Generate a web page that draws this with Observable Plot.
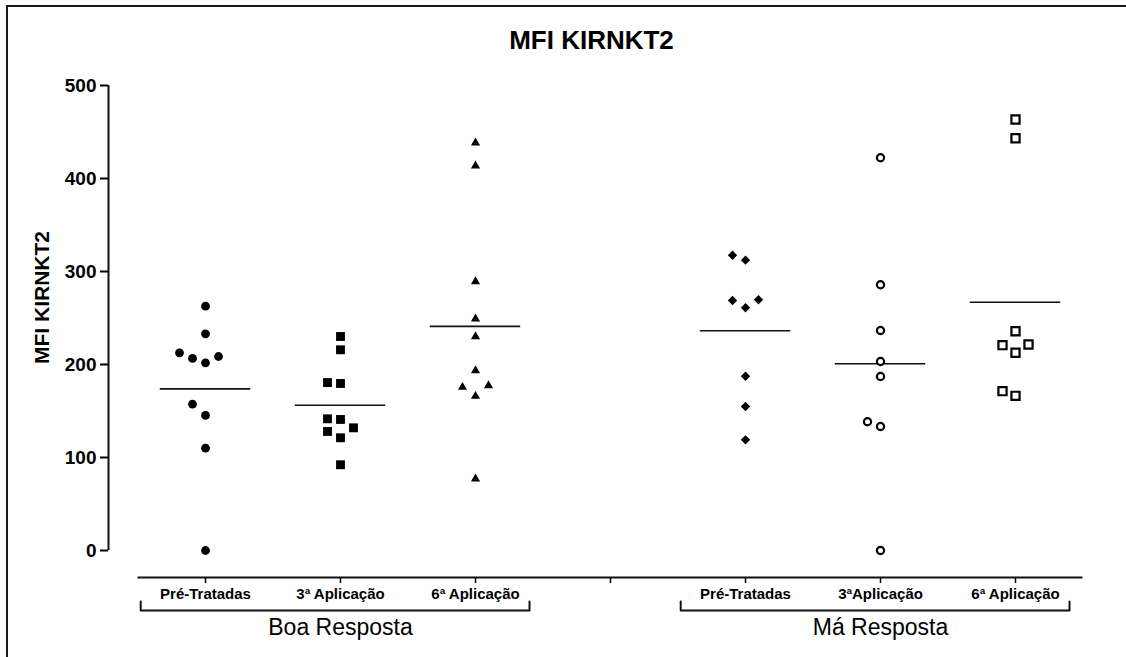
<!DOCTYPE html>
<html><head><meta charset="utf-8">
<script src="https://cdn.jsdelivr.net/npm/d3@7"></script>
<script src="https://cdn.jsdelivr.net/npm/@observablehq/plot@0.6"></script>
<style>
html,body{margin:0;padding:0;background:#fff;overflow:hidden}
#frame{position:absolute;left:6px;top:5px;width:1300px;height:800px;border-left:2px solid #1a1a1a;border-top:2px solid #1a1a1a}
#chart{position:absolute;left:0;top:0}
</style></head><body>
<div id="frame"></div><div id="chart"></div>
<script>
// ---- data ----
const chartTitle = "MFI KIRNKT2";
const yLabel = "MFI KIRNKT2";
const categories = ["Pré-Tratadas", "3ª Aplicação", "6ª Aplicação", "", "Pré-Tratadas", "3ªAplicação", "6ª Aplicação"];
const responseGroups = ["Boa Resposta", "Má Resposta"];
const yTicks = [0, 100, 200, 300, 400, 500];
const boaPreTratadas = [262.7, 233.0, 212.6, 206.5, 201.8, 208.6, 157.3, 145.2, 110.0, 0];
const boa3Aplicacao  = [230.1, 215.8, 180.6, 179.6, 140.9, 141.6, 131.9, 128.0, 121.2, 92.2];
const boa6Aplicacao  = [438.4, 413.7, 289.2, 249.1, 230.1, 193.5, 175.6, 177.4, 165.9, 77.1];
const maPreTratadas  = [317.5, 312.2, 269.6, 268.8, 261.0, 187.4, 154.8, 119.0];
const ma3Aplicacao   = [422.3, 285.7, 236.6, 203.2, 187.1, 138.4, 133.3, 0];
const ma6Aplicacao   = [463.4, 443.3, 235.8, 221.5, 220.8, 212.6, 171.3, 166.3];

// ---- layout ----
const W = 1126, H = 657;
const M = {top: 85, bottom: 107, left: 137.5, right: 43.5};
const pxPerY = (H - M.top - M.bottom) / 500;
const pxPerX = (W - M.left - M.right) / 7;

const series = [
  {cat: 0, values: boaPreTratadas, symbol: d3.symbolCircle,   fill: "#000", stroke: "none", sw: 0, r: 4.4},
  {cat: 1, values: boa3Aplicacao,  symbol: d3.symbolSquare,   fill: "#000", stroke: "none", sw: 0, r: 5.0},
  {cat: 2, values: boa6Aplicacao,  symbol: d3.symbolTriangle, fill: "#000", stroke: "none", sw: 0, r: 3.4},
  {cat: 4, values: maPreTratadas,  symbol: d3.symbolDiamond2, fill: "#000", stroke: "none", sw: 0, r: 4.2},
  {cat: 5, values: ma3Aplicacao,   symbol: d3.symbolCircle,   fill: "#fff", stroke: "#000", sw: 2.2, r: 3.6},
  {cat: 6, values: ma6Aplicacao,   symbol: d3.symbolSquare,   fill: "#fff", stroke: "#000", sw: 2.2, r: 4.6}
];

// column-scatter placement: greedy side-by-side slots for close values
function dodgeSlots(values, thresh) {
  const order = d3.range(values.length).sort((a, b) => values[a] - values[b]);
  const slots = new Array(values.length);
  const placed = [];
  const cands = [0, -1, 1, -2, 2, -3, 3];
  for (const i of order) {
    for (const s of cands) {
      if (!placed.some(j => slots[j] === s && Math.abs(values[j] - values[i]) < thresh)) { slots[i] = s; break; }
    }
    placed.push(i);
  }
  return slots;
}

const dotMarks = series.map(s => {
  const slots = dodgeSlots(s.values, 12 / pxPerY);
  const pts = s.values.map((v, i) => ({value: v, x: s.cat + slots[i] * 13 / pxPerX}));
  return Plot.dot(pts, {x: "x", y: "value", symbol: s.symbol, fill: s.fill, stroke: s.stroke, strokeWidth: s.sw, r: s.r});
});

const means = series.map(s => ({cat: s.cat, mean: d3.mean(s.values)}));

const brackets = responseGroups.map((g, k) => ({label: g, start: k * 4, end: k * 4 + 2}));
const hUnits = 9 / pxPerY;
const bracketPath = brackets.flatMap(b => [
  [b.start - 0.48, hUnits], [b.start - 0.48, 0], [b.end + 0.40, 0], [b.end + 0.40, hUnits]
].map(([x, y]) => ({g: b.label, x, y})));

const chart = Plot.plot({
  width: W, height: H,
  marginTop: M.top, marginBottom: M.bottom, marginLeft: M.left, marginRight: M.right,
  style: {fontFamily: "'Liberation Sans', Arial, sans-serif", color: "#000", background: "transparent", overflow: "visible"},
  x: {domain: [-0.5, 6.5]},
  y: {domain: [0, 500]},
  marks: [
    Plot.axisY({ticks: yTicks, tickFormat: d => String(d), dx: -29.5, tickSize: 8, tickPadding: 4, fontSize: 19, fontWeight: "bold", label: null, strokeWidth: 2}),
    Plot.ruleX([-0.5], {y1: 0, y2: 500, dx: -29.5, strokeWidth: 2, stroke: "#111"}),
    Plot.axisX({ticks: d3.range(7), tickFormat: i => categories[i], dy: 27, tickSize: 6, tickPadding: 5, fontSize: 15, fontWeight: "bold", label: null, strokeWidth: 1.5}),
    Plot.ruleY([0], {dy: 27, strokeWidth: 2, stroke: "#111"}),
    Plot.line(bracketPath, {x: "x", y: "y", z: "g", dy: 60, strokeWidth: 2, stroke: "#111"}),
    Plot.text(brackets, {x: d => (d.start + d.end) / 2, y: 0, dy: 77, text: "label", fontSize: 23, lineAnchor: "middle"}),
    Plot.text([chartTitle], {text: d => d, frameAnchor: "top", dx: -19, dy: -45, fontSize: 26, fontWeight: "bold", lineAnchor: "middle"}),
    Plot.text([yLabel], {text: d => d, frameAnchor: "left", textAnchor: "middle", rotate: -90, dx: -95.5, dy: -20.5, fontSize: 21, fontWeight: "bold", lineAnchor: "middle"}),
    Plot.ruleY(means, {y: "mean", x1: d => d.cat - 0.335, x2: d => d.cat + 0.335, stroke: "#111", strokeWidth: 1.6}),
    ...dotMarks
  ]
});
document.getElementById("chart").appendChild(chart);
</script>
</body></html>
